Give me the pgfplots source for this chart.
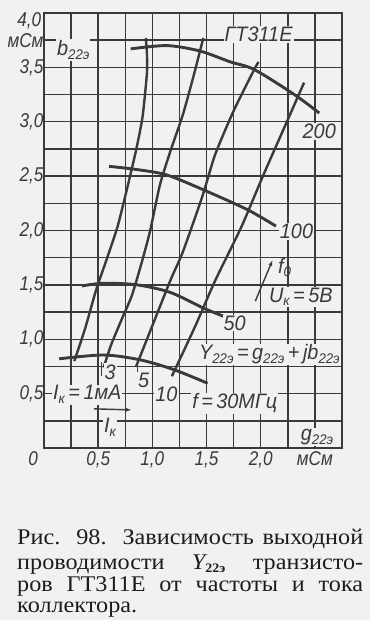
\documentclass[border=0pt]{standalone}
\usepackage{fontspec}
\setmainfont{Liberation Serif}
\newfontfamily\cf[FakeStretch=0.95]{Liberation Sans}
\newfontfamily\cfn[FakeStretch=0.86]{Liberation Sans}
\newfontfamily\capfont[FakeStretch=1.08]{Liberation Serif}
\usepackage{pgfplots}
\pgfplotsset{compat=1.18}
\usetikzlibrary{arrows.meta}
\definecolor{bg}{RGB}{241,241,240}
\definecolor{ink}{RGB}{58,58,58}
\definecolor{capink}{RGB}{28,28,28}
\newcommand{\lab}{\fontsize{21}{21}\selectfont\cf\itshape}
\newcommand{\tlab}{\fontsize{20}{20}\selectfont\cfn\itshape}
\newcommand{\sub}[1]{\raisebox{-0.35ex}{\fontsize{14}{14}\selectfont #1}}
\newcommand{\capline}[1]{\makebox[346bp][s]{\capfont\fontsize{22.5}{22.5}\selectfont #1}}
\tikzset{lb/.style={font=\lab, text=ink, fill=bg, inner sep=1bp}}
\begin{document}
\begin{tikzpicture}[x=1bp,y=1bp]
\fill[bg] (0,0) rectangle (370,620);
\path[use as bounding box] (0,0) rectangle (370,620);
\begin{axis}[
  at={(44bp,172bp)}, anchor=south west,
  scale only axis, width=298bp, height=435bp,
  xmin=0, xmax=2.75, ymin=0, ymax=4,
  xtick={0,0.25,...,2.75}, ytick={0,0.25,...,4},
  xticklabels={,,{0,5},,{1,0},,{1,5},,{2,0},,{мСм},},
  yticklabels={,,{0,5},,{1,0},,{1,5},,{2,0},,{2,5},,{3,0},,{3,5},{мСм},},
  major tick length=0pt,
  grid=major, grid style={ink, line width=1.4bp},
  axis line style={ink, line width=2bp},
  tick label style={font=\tlab, text=ink},
  xticklabel style={yshift=0bp},
  yticklabel style={xshift=3bp},
  clip=false,
]
% frequency curves
\addplot[ink, line width=2.9bp, smooth, tension=0.5] coordinates {(0.80,3.67)(1.135,3.70)(1.44,3.65)(1.72,3.55)(1.94,3.48)(2.31,3.25)(2.54,3.08)};
\addplot[ink, line width=2.9bp, smooth, tension=0.5] coordinates {(0.60,2.59)(0.86,2.56)(1.135,2.51)(1.48,2.37)(1.88,2.19)(2.14,2.04)};
\addplot[ink, line width=2.9bp, smooth, tension=0.5] coordinates {(0.35,1.49)(0.55,1.515)(0.86,1.50)(1.167,1.43)(1.475,1.285)(1.66,1.21)};
\addplot[ink, line width=2.9bp, smooth, tension=0.5] coordinates {(0.14,0.82)(0.55,0.855)(0.89,0.81)(1.20,0.72)(1.51,0.595)};
% collector current lines
\addplot[ink, line width=2.4bp, smooth, tension=0.4] coordinates {(0.28,0.80)(0.38,1.10)(0.48,1.45)(0.58,1.74)(0.68,2.04)(0.77,2.40)(0.85,2.74)(0.91,3.05)(0.95,3.45)(0.95,3.62)(0.94,3.77)};
\addplot[ink, line width=2.4bp, smooth, tension=0.4] coordinates {(0.55,0.74)(0.62,0.95)(0.72,1.19)(0.81,1.40)(0.90,1.70)(0.98,2.00)(1.07,2.42)(1.17,2.74)(1.28,3.06)(1.38,3.42)(1.47,3.77)};
\addplot[ink, line width=2.4bp, smooth, tension=0.4] coordinates {(0.85,0.75)(0.99,1.10)(1.17,1.55)(1.28,1.80)(1.46,2.31)(1.58,2.70)(1.75,3.10)(1.94,3.48)(1.98,3.55)};
\addplot[ink, line width=2.4bp, smooth, tension=0.4] coordinates {(1.18,0.66)(1.40,1.13)(1.58,1.54)(1.82,2.03)(2.02,2.50)(2.25,3.02)(2.40,3.36)};
% leaders and arrows
\addplot[ink, line width=1.3bp] coordinates {(0.53,0.79)(0.53,0.66)};
\addplot[ink, line width=1.3bp] coordinates {(0.86,0.745)(0.86,0.67)};
\addplot[ink, line width=1.4bp, -{Latex[length=6bp,width=4bp]}] coordinates {(0.46,0.36)(0.81,0.35)};
\addplot[ink, line width=1.4bp, -{Latex[length=6bp,width=4bp]}] coordinates {(1.95,1.35)(2.11,1.73)};
% labels
\node[lb] at (axis cs:0.40,0.49) {I\sub{к}\,=\,1мА};
\node[lb] at (axis cs:0.61,0.70) {3};
\node[lb] at (axis cs:0.92,0.625) {5};
\node[lb] at (axis cs:1.13,0.49) {10};
\node[lb] at (axis cs:0.61,0.19) {I\sub{к}};
\node[lb] at (axis cs:1.76,0.41) {f\,=\,30МГц};
\node[lb] at (axis cs:2.08,0.86) {Y\sub{22э}\,=\,g\sub{22э}\,+\,jb\sub{22э}};
\node[lb] at (axis cs:2.37,1.39) {U\sub{к}\,=\,5В};
\node[lb, fill=none] at (axis cs:2.22,1.66) {f\sub{0}};
\node[lb] at (axis cs:1.76,1.15) {50};
\node[lb] at (axis cs:2.33,1.99) {100};
\node[lb] at (axis cs:2.54,2.91) {200};
\node[lb] at (axis cs:1.98,3.80) {ГТ311Е};
\node[lb] at (axis cs:0.27,3.66) {b\sub{22э}};
\node[lb] at (axis cs:2.52,0.10) {g\sub{22э}};
\node[font=\tlab, text=ink, anchor=north, inner sep=0pt] at (axis cs:-0.10,-0.035) {0};
\node[font=\tlab, text=ink, anchor=east, inner sep=0pt] at (axis cs:-0.025,3.93) {4,0};
\end{axis}
\color{capink}
\node[anchor=base west, inner sep=0pt] at (17,75) {\capline{Рис. 98. Зависимость выходной}};
\node[anchor=base west, inner sep=0pt] at (17,50) {\capline{проводимости {\itshape Y}\raisebox{-0.25ex}{\fontsize{13}{13}\selectfont\bfseries 22э} транзисто-}};
\node[anchor=base west, inner sep=0pt] at (17,28) {\capline{ров ГТ311Е от частоты и тока}};
\node[anchor=base west, inner sep=0pt] at (17,7) {\capfont\fontsize{22.5}{22.5}\selectfont коллектора.};
\end{tikzpicture}
\end{document}
